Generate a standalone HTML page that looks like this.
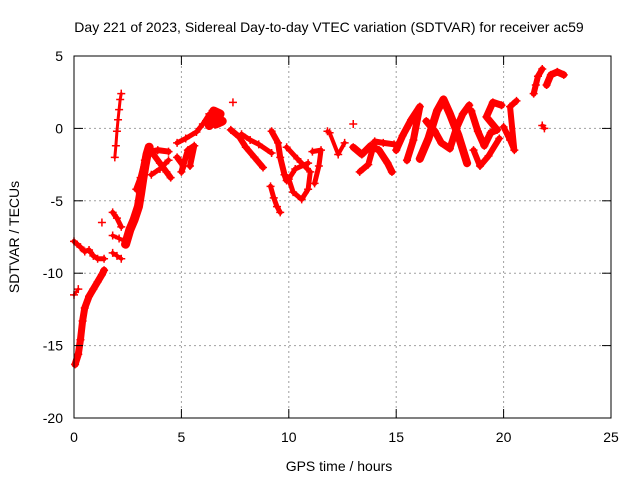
<!DOCTYPE html>
<html><head><meta charset="utf-8"><style>
body{margin:0;background:#fff}
svg{display:block;font-family:"Liberation Sans",sans-serif}
</style></head><body>
<svg id="chart" width="640" height="480">
<rect width="640" height="480" fill="#fff"/>
<text x="329" y="32" font-size="14" text-anchor="middle">Day 221 of 2023, Sidereal Day-to-day VTEC variation (SDTVAR) for receiver ac59</text>
<g id="grid"></g>
<g id="marks"></g>
<rect x="74" y="56" width="537" height="362" fill="none" stroke="#000" stroke-width="1"/>
<g id="ticks"></g>
<text x="339" y="471" font-size="14" text-anchor="middle">GPS time / hours</text>
<text x="19" y="237" font-size="14" text-anchor="middle" transform="rotate(-90 19 237)">SDTVAR / TECUs</text>
</svg>
<script>
const xTicks=[0,5,10,15,20,25];
const yTicks=[5,0,-5,-10,-15,-20];
// tracks: [hours, TECU] points
const trackA=[[0.05,-16.3],[0.2,-15.6],[0.3,-14.6],[0.4,-13.3],[0.5,-12.4],[0.7,-11.6],[0.9,-11.1],[1.1,-10.6],[1.3,-10.1],[1.4,-9.8]];
const trackB=[[0,-11.5],[0.2,-11.1]];
const trackC=[[0,-7.8],[0.3,-8.2],[0.5,-8.5],[0.7,-8.4],[0.9,-8.8],[1.1,-9.0],[1.4,-9.0]];
const trackD=[[1.3,-6.5]];
const trackE=[[1.9,-2.0],[1.95,-1.2],[2.0,-0.2],[2.05,0.6],[2.1,1.3],[2.15,2.0],[2.2,2.4]];
const trackF=[[1.8,-5.8],[2.0,-6.2],[2.2,-6.8]];
const trackG=[[1.8,-7.4],[2.1,-7.6],[2.4,-7.8]];
const trackH=[[1.8,-8.6],[2.0,-8.8],[2.2,-9.0]];
const trackI=[[2.4,-8.0],[2.6,-7.0],[2.8,-6.3],[3.0,-5.4],[3.1,-4.5],[3.2,-3.5],[3.3,-2.6],[3.4,-1.8],[3.5,-1.3]];
const trackJ=[[2.9,-4.2],[3.1,-3.4],[3.3,-2.2],[3.6,-1.6],[3.9,-1.5],[4.4,-1.6]];
const trackK=[[3.7,-1.8],[4.0,-2.4],[4.3,-3.0],[4.5,-3.4]];
const trackK2=[[3.6,-3.2],[4.0,-2.8],[4.4,-2.2]];
const trackL=[[4.8,-1.0],[5.2,-0.7],[5.7,-0.25],[6.0,0.3],[6.3,1.0]];
const trackM=[[4.8,-2.0],[5.1,-2.6],[5.0,-3.0],[5.3,-1.5],[5.6,-1.2],[5.4,-2.6]];
const trackN=[[6.3,0.2],[6.5,1.2],[6.8,1.0],[6.6,0.3],[6.9,0.5]];
const trackO=[[7.4,1.8]];
const trackP=[[7.3,-0.1],[7.7,-0.6],[8.0,-1.3],[8.4,-2.0],[8.8,-2.7]];
const trackQ=[[7.8,-0.4],[8.2,-0.8],[8.6,-1.1],[9.2,-1.7]];
const trackR=[[9.2,-0.2],[9.5,-1.0],[9.6,-2.0],[9.8,-3.2],[9.9,-3.6]];
const trackS=[[9.15,-4.0],[9.3,-4.8],[9.45,-5.4],[9.6,-5.8]];
const trackT=[[9.9,-1.3],[10.4,-2.1],[11.0,-3.0],[10.9,-4.2],[10.6,-4.9],[10.2,-4.4],[10.0,-3.5],[10.3,-2.8],[10.9,-2.4]];
const trackU=[[11.1,-1.6],[11.5,-1.5],[11.4,-2.6],[11.2,-3.8]];
const trackV=[[11.8,-0.2],[11.9,-0.3],[12.3,-1.8],[12.6,-1.0]];
const trackW=[[13.0,0.3]];
const trackX=[[13.0,-1.3],[13.4,-1.8],[13.8,-1.2],[14.2,-1.5],[14.6,-2.4],[14.8,-3.0]];
const trackX2=[[13.3,-3.0],[13.7,-2.5],[14.0,-0.9],[14.4,-1.0],[14.9,-1.1]];
const trackY=[[15.0,-1.5],[15.3,-0.5],[15.7,0.6],[16.1,1.5],[15.8,-0.8],[15.5,-2.2]];
const trackZ=[[16.1,-2.1],[16.5,-0.7],[16.9,1.2],[17.2,2.0],[17.5,1.0],[17.9,-0.5],[18.3,-2.4]];
const trackZ2=[[16.4,0.5],[16.8,-0.2],[17.1,-1.0],[17.5,-1.4],[17.8,0.0],[18.1,1.0],[18.4,1.6]];
const trackAA=[[18.5,1.2],[18.8,-0.2],[19.1,-1.2],[19.4,-0.3],[19.7,-0.1],[19.2,0.8],[19.5,1.8],[19.9,1.6]];
const trackAB=[[18.6,-1.5],[18.9,-2.6],[19.3,-1.9],[19.8,-0.7]];
const trackAC=[[20.0,0.1],[20.3,-0.8],[20.5,-1.5],[20.3,1.5],[20.6,1.9]];
const trackAD=[[21.4,2.4],[21.5,3.0],[21.6,3.6],[21.8,4.1]];
const trackAE=[[21.8,0.2],[21.9,0.0]];
const trackAF=[[22.0,3.0],[22.2,3.7],[22.5,3.9],[22.8,3.7]];
const tracks=[trackA,trackB,trackC,trackD,trackE,trackF,trackG,trackH,trackI,trackJ,trackK,trackK2,trackL,trackM,trackN,trackO,trackP,trackQ,trackR,trackS,trackT,trackU,trackV,trackW,trackX,trackX2,trackY,trackZ,trackZ2,trackAA,trackAB,trackAC,trackAD,trackAE,trackAF];
const widths=[7,3,5,1,3,5,4,4,9,6,6,5,5,6,9,1,6,5,6,5,5,5,4,1,7,6,7,8,7,7,6,6,6,4,7];

const NS="http://www.w3.org/2000/svg";
const X=v=>74+v*537/25, Y=v=>56+(5-v)*362/25;
const grid=document.getElementById('grid'),ticks=document.getElementById('ticks'),marks=document.getElementById('marks');
function mk(tag,attrs,parent){const e=document.createElementNS(NS,tag);for(const k in attrs)e.setAttribute(k,attrs[k]);parent.appendChild(e);return e;}
xTicks.forEach(t=>{
  const x=X(t);
  if(t>0&&t<25){const g=mk('line',{x1:x,x2:x,y1:56,y2:418,stroke:'#a0a0a0','stroke-dasharray':'2,3'},grid);
  
  }
  mk('line',{x1:x,x2:x,y1:418,y2:409,stroke:'#000'},ticks);
  mk('line',{x1:x,x2:x,y1:56,y2:65,stroke:'#000'},ticks);
  const l=mk('text',{x:x,y:442,'font-size':14,'text-anchor':'middle'},ticks);l.textContent=t;
  
  
});
yTicks.forEach(t=>{
  const y=Y(t);
  if(t<5&&t>-20){const g=mk('line',{x1:74,x2:611,y1:y,y2:y,stroke:'#a0a0a0','stroke-dasharray':'2,3'},grid);
  
  }
  mk('line',{x1:74,x2:83,y1:y,y2:y,stroke:'#000'},ticks);
  mk('line',{x1:611,x2:602,y1:y,y2:y,stroke:'#000'},ticks);
  const l=mk('text',{x:63,y:y+5,'font-size':14,'text-anchor':'end'},ticks);l.textContent=t;
  
  
});
tracks.forEach((tr,i)=>{
  if(tr.length>1){
    const p=mk('polyline',{points:tr.map(d=>X(d[0])+','+Y(d[1])).join(' '),fill:'none',stroke:'#f00','stroke-width':widths[i],'stroke-linejoin':'round','stroke-linecap':'round'},marks);
    
    
  }
  tr.forEach(d=>{
    const x=X(d[0]),y=Y(d[1]);
    const m=mk('path',{d:`M${x-4},${y}H${x+4}M${x},${y-4}V${y+4}`,stroke:'#f00','stroke-width':1.5},marks);
    
    
  });
});
</script>
</body></html>
